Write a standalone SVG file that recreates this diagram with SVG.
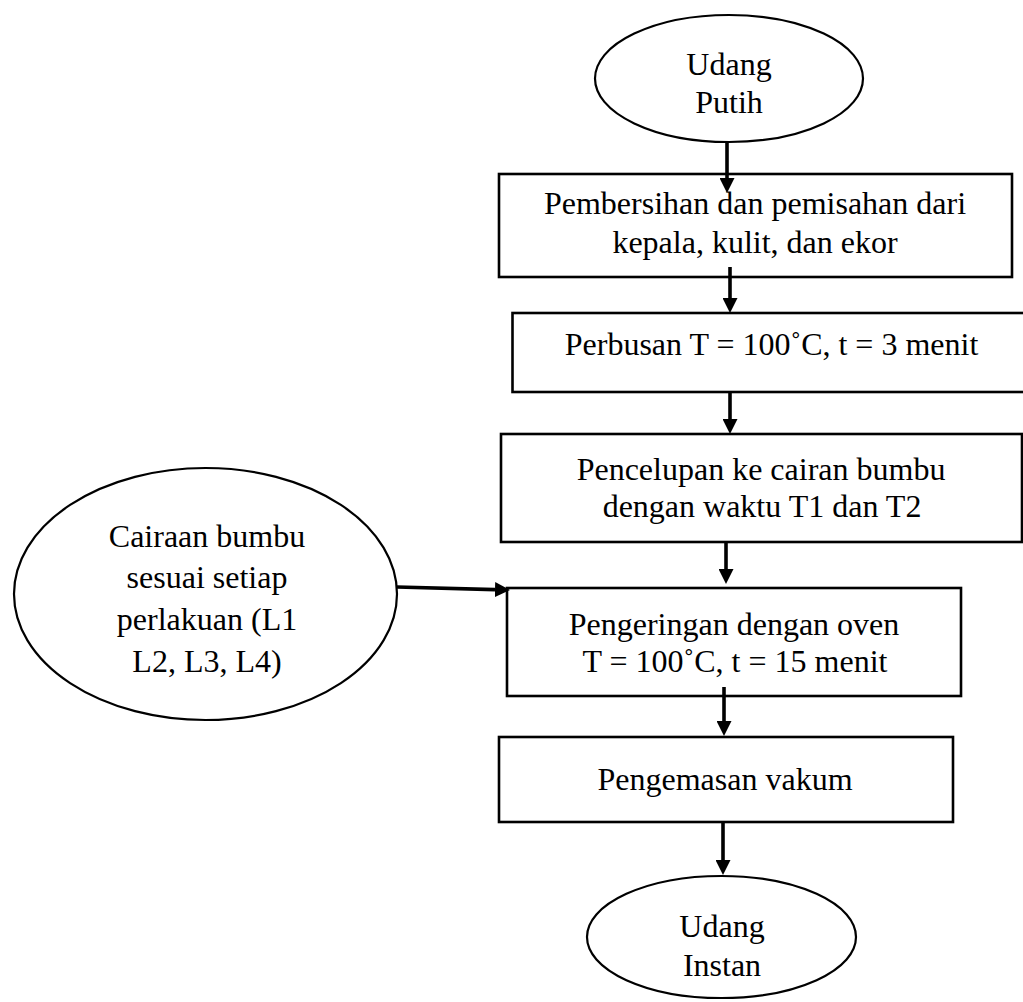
<svg xmlns="http://www.w3.org/2000/svg" width="1023" height="1002" viewBox="0 0 1023 1002">
  <style>
    .shape { fill: #ffffff; stroke: #000000; }
    .box { stroke-width: 2.6; }
    .oval { stroke-width: 2.2; }
    .lbl { font-family: "Liberation Serif", "Times New Roman", serif; font-size: 32px; fill: #000000; text-anchor: middle; }
    .conn { stroke: #000000; stroke-width: 3.6; fill: none; }
  </style>
  <defs>
    <marker id="arrow" viewBox="0 0 15 15" refX="0" refY="7.5" markerWidth="15" markerHeight="15" markerUnits="userSpaceOnUse" orient="auto">
      <path d="M0,0 L15,7.5 L0,15 z" fill="#000000"/>
    </marker>
  </defs>
  <rect width="1023" height="1002" fill="#ffffff"/>

  <g id="node-udang-putih">
    <ellipse class="shape oval" cx="729" cy="78.5" rx="134" ry="63.5"/>
    <text class="lbl" x="729" y="75">Udang</text>
    <text class="lbl" x="729" y="113">Putih</text>
  </g>

  <g id="node-pembersihan">
    <rect class="shape box" x="499" y="174" width="513" height="103"/>
    <text class="lbl" x="755" y="214">Pembersihan dan pemisahan dari</text>
    <text class="lbl" x="755" y="253">kepala, kulit, dan ekor</text>
  </g>

  <g id="node-perbusan">
    <rect class="shape box" x="512.5" y="313" width="520" height="79"/>
    <text class="lbl" x="771.5" y="355">Perbusan T = 100˚C, t = 3 menit</text>
  </g>

  <g id="node-pencelupan">
    <rect class="shape box" x="501" y="434" width="521" height="108"/>
    <text class="lbl" x="761" y="480">Pencelupan ke cairan bumbu</text>
    <text class="lbl" x="762" y="517">dengan waktu T1 dan T2</text>
  </g>

  <g id="node-cairan-bumbu">
    <ellipse class="shape oval" cx="205.5" cy="594" rx="191.5" ry="126"/>
    <text class="lbl" x="207" y="547">Cairaan bumbu</text>
    <text class="lbl" x="207" y="588">sesuai setiap</text>
    <text class="lbl" x="207" y="630">perlakuan (L1</text>
    <text class="lbl" x="207" y="672">L2, L3, L4)</text>
  </g>

  <g id="node-pengeringan">
    <rect class="shape box" x="507" y="588" width="454" height="108"/>
    <text class="lbl" x="734" y="635">Pengeringan dengan oven</text>
    <text class="lbl" x="735" y="672">T = 100˚C, t = 15 menit</text>
  </g>

  <g id="node-pengemasan">
    <rect class="shape box" x="499" y="737" width="454" height="85"/>
    <text class="lbl" x="725" y="790">Pengemasan vakum</text>
  </g>

  <g id="node-udang-instan">
    <ellipse class="shape oval" cx="721.5" cy="937" rx="134.5" ry="61"/>
    <text class="lbl" x="722" y="937">Udang</text>
    <text class="lbl" x="722" y="976">Instan</text>
  </g>

  <g id="connectors">
    <line class="conn" x1="727" y1="142" x2="727" y2="178" marker-end="url(#arrow)"/>
    <line class="conn" x1="730" y1="267" x2="730" y2="298" marker-end="url(#arrow)"/>
    <line class="conn" x1="730" y1="392" x2="730" y2="419" marker-end="url(#arrow)"/>
    <line class="conn" x1="726" y1="542" x2="726" y2="569" marker-end="url(#arrow)"/>
    <line class="conn" x1="724" y1="687" x2="724" y2="721" marker-end="url(#arrow)"/>
    <line class="conn" x1="723" y1="822" x2="723" y2="860" marker-end="url(#arrow)"/>
    <line class="conn" x1="397" y1="587" x2="495" y2="589.6" marker-end="url(#arrow)"/>
  </g>
</svg>
